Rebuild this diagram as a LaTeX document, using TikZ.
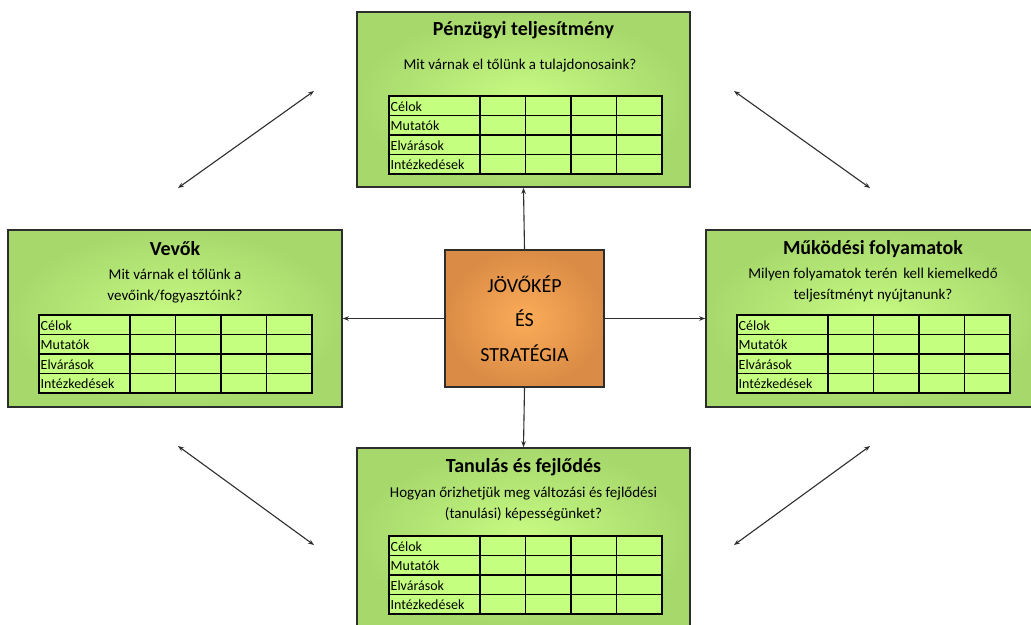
\documentclass[tikz,border=0pt]{standalone}
\usepackage{fontspec}
\setmainfont{Carlito}
\usetikzlibrary{arrows.meta}
\definecolor{boxin}{RGB}{200,250,132}
\definecolor{boxout}{RGB}{166,216,108}
\definecolor{cellfill}{RGB}{196,255,128}
\definecolor{orin}{RGB}{252,172,88}
\definecolor{orout}{RGB}{218,140,70}
\definecolor{edge}{RGB}{45,45,45}
\tikzset{
  persp/.style={draw=edge, line width=1.6pt, rectangle, inner sep=0pt,
    shading=radial, inner color=boxin, outer color=boxout},
  core/.style={draw=edge, line width=1.6pt, rectangle, inner sep=0pt,
    shading=radial, inner color=orin, outer color=orout,
    minimum width=159pt, minimum height=137pt,
    font=\fontsize{20}{34.5}\selectfont, align=center},
  ttl/.style={font=\fontsize{20}{24}\selectfont\bfseries},
  qst/.style={font=\fontsize{15}{21}\selectfont, align=center},
  cell/.style={draw=black, line width=1.3pt, fill=cellfill},
  lbl/.style={font=\fontsize{14}{16}\selectfont, anchor=west, inner sep=1.5pt},
  link/.style={draw=edge, line width=1.1pt, -{Stealth[length=6pt,width=4.5pt]}},
  dlink/.style={draw=edge, line width=1.1pt, {Stealth[length=6pt,width=4.5pt]}-{Stealth[length=6pt,width=4.5pt]}}
}
% scorecard grid: #1,#2 = top-left corner
\newcommand\bscgrid[2]{%
  \begin{scope}[shift={(#1,#2)}]
    \foreach \r/\lab in {0/Célok,1/Mutatók,2/Elvárások,3/Intézkedések}{
      \path[cell] (0,{\r*19.5}) rectangle (91,{(\r+1)*19.5});
      \node[lbl] at (0,{\r*19.5+10.5}) {\lab};
      \foreach \c in {0,1,2,3}{
        \path[cell] ({91+\c*45.5},{\r*19.5}) rectangle ({91+(\c+1)*45.5},{(\r+1)*19.5});
      }
    }
  \end{scope}}
\begin{document}
\begin{tikzpicture}[x=1pt,y=-1pt]
\useasboundingbox (0,0) rectangle (1031,624);
\begin{scope}
\clip (0,0) rectangle (1031,624);

% perspective boxes
\node[persp, minimum width=333pt, minimum height=175pt] (fin) at (523.5,99.5) {};
\node[persp, minimum width=334pt, minimum height=177pt] (cust) at (175,318.5) {};
\node[persp, minimum width=334pt, minimum height=177pt] (proc) at (873,318.5) {};
\node[persp, minimum width=333pt, minimum height=178pt] (learn) at (523.5,537) {};

% vision and strategy
\node[core] (vis) at (524.5,318.5) {JÖVŐKÉP\\ÉS\\STRATÉGIA};

% titles and questions
\node[ttl] (finT) at (523.5,30) {Pénzügyi teljesítmény};
\node[qst] (finQ) at (520,66) {Mit várnak el tőlünk a tulajdonosaink?};
\bscgrid{389}{96}

\node[ttl] (custT) at (175,249) {Vevők};
\node[qst] (custQ) at (175,286) {Mit várnak el tőlünk a\\vevőink/fogyasztóink?};
\bscgrid{39}{315}

\node[ttl] (procT) at (873,249) {Működési folyamatok};
\node[qst] (procQ) at (873,285) {Milyen folyamatok terén\, kell kiemelkedő\\teljesítményt nyújtanunk?};
\bscgrid{737}{315}

\node[ttl] (learnT) at (523.5,467) {Tanulás és fejlődés};
\node[qst] (learnQ) at (523.5,504) {Hogyan őrizhetjük meg változási és fejlődési\\(tanulási) képességünket?};
\bscgrid{389}{536}

% links from the centre
\draw[link] (vis.north) -- (fin.south);
\draw[link] (vis.west) -- (cust.east);
\draw[link] (vis.east) -- (proc.east -| proc.west);
\draw[link] (vis.south) -- (learn.north);

% links between neighbouring perspectives
\coordinate (a1) at (178,188); \coordinate (a2) at (314,91);
\coordinate (b1) at (734,91);  \coordinate (b2) at (870,188);
\coordinate (c1) at (178,446); \coordinate (c2) at (314,545);
\coordinate (d1) at (734,545); \coordinate (d2) at (870,446);
\draw[dlink] (a1) -- (a2);
\draw[dlink] (b1) -- (b2);
\draw[dlink] (c1) -- (c2);
\draw[dlink] (d1) -- (d2);
\end{scope}
\end{tikzpicture}
\end{document}
